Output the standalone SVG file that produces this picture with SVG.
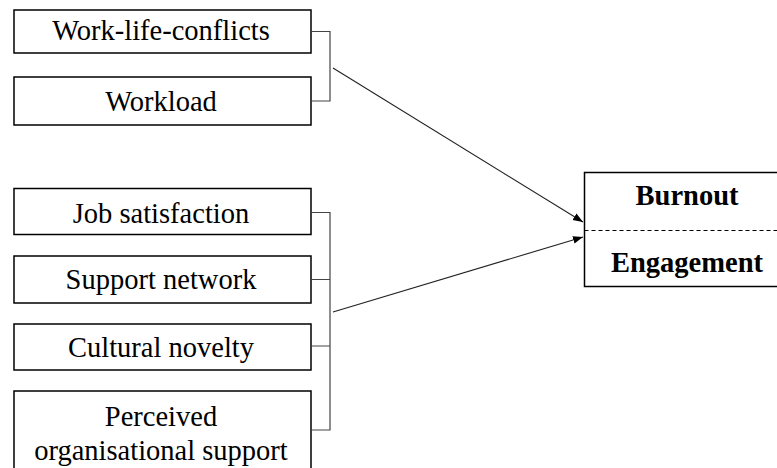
<svg xmlns="http://www.w3.org/2000/svg" width="777" height="468" viewBox="0 0 777 468">
<defs>
<style>
.box{fill:#fff;stroke:#000;stroke-width:1.5}
.t{font-size:28.5px;fill:#000;text-anchor:middle}
.b{font-weight:bold}
.br{fill:none;stroke:#444;stroke-width:1.2}
.ar{fill:none;stroke:#222;stroke-width:1.1}
</style>
<marker id="ah" viewBox="0 0 10 10" refX="10" refY="5" markerWidth="10" markerHeight="10" markerUnits="userSpaceOnUse" orient="auto">
<path d="M0,1.2 L10,5 L0,8.8 Z" fill="#000"/>
</marker>
</defs>
<rect width="777" height="468" fill="#fff"/>
<g font-family="Liberation Serif, Times New Roman, DejaVu Serif, serif">
<g id="n1"><rect class="box" x="14" y="10" width="297" height="43"/><text class="t" x="161" y="40">Work-life-conflicts</text></g>
<g id="n2"><rect class="box" x="14" y="77" width="297" height="48"/><text class="t" x="161" y="110.5">Workload</text></g>
<g id="n3"><rect class="box" x="14" y="188.5" width="297" height="46"/><text class="t" x="161" y="222.5">Job satisfaction</text></g>
<g id="n4"><rect class="box" x="14" y="256" width="297" height="47"/><text class="t" x="161" y="289">Support network</text></g>
<g id="n5"><rect class="box" x="14" y="324" width="297" height="46"/><text class="t" x="161" y="356.5">Cultural novelty</text></g>
<g id="n6"><rect class="box" x="14" y="391" width="297" height="80"/><text class="t" x="161" y="426">Perceived</text><text class="t" x="161" y="460">organisational support</text></g>
<g id="n7"><rect class="box" x="584.5" y="172.5" width="200" height="114"/><line x1="584.5" y1="230.5" x2="777" y2="230.5" stroke="#000" stroke-width="1" stroke-dasharray="4,3"/><text class="t b" x="687" y="205">Burnout</text><text class="t b" x="687" y="271.5">Engagement</text></g>
</g>
<g id="connectors">
<path class="br" d="M311,31.5 H330 V101 H311"/>
<path class="br" d="M311,212.5 H330 V430 H311 M311,279.5 H330 M311,346 H330"/>
<line class="ar" x1="333" y1="68" x2="583" y2="222" marker-end="url(#ah)"/>
<line class="ar" x1="333" y1="312" x2="583" y2="237" marker-end="url(#ah)"/>
</g>
</svg>
